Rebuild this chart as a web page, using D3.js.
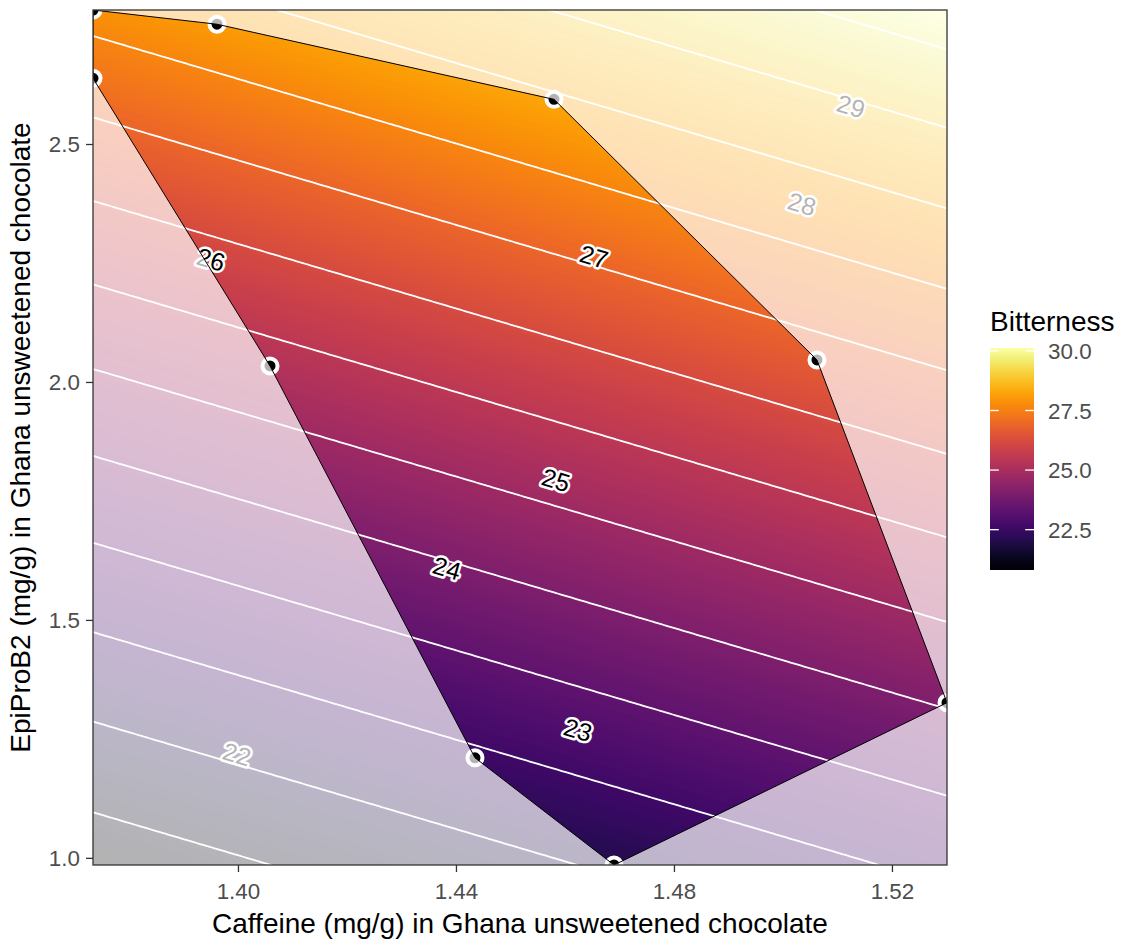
<!DOCTYPE html>
<html>
<head>
<meta charset="utf-8">
<script src="https://cdn.jsdelivr.net/npm/d3@7"></script>
<style>
  body { margin: 0; background: #ffffff; }
  svg { display: block; font-family: "Liberation Sans", Arial, sans-serif; }
</style>
</head>
<body>
<svg id="chart" width="1125" height="940"></svg>
<script>
// Design points: vertices of the experimental region, listed around its boundary
const caffeine = [1.3734, 1.39615, 1.45799, 1.50624, 1.5301, 1.46900, 1.44349, 1.40588, 1.3734];
const epiProB2 = [2.7816, 2.7517, 2.5938, 2.0463, 1.3261, 0.9850, 1.2103, 2.0336, 2.6380];

// Fitted second-order response surface, terms: [1, C, E, C^2, E^2, C*E]
const bitternessCoef = [4.8197, 6.789, 2.0016, 1.6933, 0.14717, 0.9984];

// Contour line levels
const contourLevels = [21.21, 21.92, 22.63, 23.35, 24.06, 24.78, 25.49, 26.20, 26.92, 27.63, 28.34, 29.06, 29.77];

// Contour labels: value and the caffeine position where each label sits
const labelValues = [22, 23, 24, 25, 26, 27, 28, 29];
const labelCaffeine = [1.39982, 1.46239, 1.43835, 1.45835, 1.39505, 1.46533, 1.50349, 1.51248];

const xTicks = [1.40, 1.44, 1.48, 1.52];
const yTicks = [1.0, 1.5, 2.0, 2.5];
const legendTicks = [22.5, 25.0, 27.5, 30.0];

const bitterness = (c, e) => {
  const b = bitternessCoef;
  return b[0] + b[1] * c + b[2] * e + b[3] * c * c + b[4] * e * e + b[5] * c * e;
};

const panel = { left: 93, right: 947, top: 10, bottom: 865 };
const pw = panel.right - panel.left, ph = panel.bottom - panel.top;

const svg = d3.select("#chart");

const x = d3.scaleLinear().domain(d3.extent(caffeine)).range([panel.left, panel.right]);
const y = d3.scaleLinear().domain(d3.extent(epiProB2)).range([panel.bottom, panel.top]);
const [xmin, xmax] = x.domain();
const [ymin, ymax] = y.domain();

// ---- raster of the surface, one sample per screen pixel ----
const raster = new Float64Array(pw * ph);
for (let j = 0; j < ph; j++) {
  const e = y.invert(panel.top + j + 0.5);
  for (let i = 0; i < pw; i++) {
    raster[j * pw + i] = bitterness(x.invert(panel.left + i + 0.5), e);
  }
}
const zExtent = d3.extent(raster);
const fill = d3.scaleSequential(d3.interpolateInferno).domain(zExtent);

const lutN = 1024;
const lut = d3.range(lutN).map(k => d3.rgb(d3.interpolateInferno(k / (lutN - 1))));
const canvas = document.createElement("canvas");
canvas.width = pw; canvas.height = ph;
const ctx = canvas.getContext("2d");
const img = ctx.createImageData(pw, ph);
for (let k = 0; k < raster.length; k++) {
  const t = (raster[k] - zExtent[0]) / (zExtent[1] - zExtent[0]);
  const col = lut[Math.max(0, Math.min(lutN - 1, Math.round(t * (lutN - 1))))];
  img.data[4 * k] = col.r; img.data[4 * k + 1] = col.g; img.data[4 * k + 2] = col.b; img.data[4 * k + 3] = 255;
}
ctx.putImageData(img, 0, 0);

const defs = svg.append("defs");
defs.append("clipPath").attr("id", "panel-clip")
  .append("rect").attr("x", panel.left).attr("y", panel.top).attr("width", pw).attr("height", ph);

const plot = svg.append("g").attr("clip-path", "url(#panel-clip)");

plot.append("image")
  .attr("x", panel.left).attr("y", panel.top)
  .attr("width", pw).attr("height", ph)
  .attr("preserveAspectRatio", "none")
  .attr("href", canvas.toDataURL());

// ---- contour lines ----
const gx = 240, gy = 240;
const grid = new Float64Array(gx * gy);
for (let j = 0; j < gy; j++) {
  const e = ymax - j * (ymax - ymin) / (gy - 1);
  for (let i = 0; i < gx; i++) {
    grid[j * gx + i] = bitterness(xmin + i * (xmax - xmin) / (gx - 1), e);
  }
}
const contours = d3.contours().size([gx, gy]).thresholds(contourLevels)(grid);
const gridToScreen = d3.geoTransform({
  point(px, py) {
    this.stream.point(
      x(xmin + (px - 0.5) * (xmax - xmin) / (gx - 1)),
      y(ymax - (py - 0.5) * (ymax - ymin) / (gy - 1))
    );
  }
});
const contourPath = d3.geoPath(gridToScreen);
plot.append("g")
  .selectAll("path")
  .data(contours)
  .join("path")
  .attr("d", contourPath)
  .attr("fill", "none")
  .attr("stroke", "#ffffff")
  .attr("stroke-width", 1.8);

// ---- contour labels, placed where the surface equals the label value ----
function solveEpi(c, v) {
  let lo = ymin - 1, hi = ymax + 1;
  for (let k = 0; k < 60; k++) {
    const mid = (lo + hi) / 2;
    if (bitterness(c, mid) < v) lo = mid; else hi = mid;
  }
  return (lo + hi) / 2;
}
const labels = labelValues.map((v, k) => {
  const c = labelCaffeine[k];
  const e = solveEpi(c, v);
  const px = x(c), py = y(e);
  const fx = bitterness(x.invert(px + 1), e) - bitterness(x.invert(px - 1), e);
  const fy = bitterness(c, y.invert(py + 1)) - bitterness(c, y.invert(py - 1));
  const angle = Math.atan2(fx, -fy) * 180 / Math.PI;
  return { v, px, py, angle };
});
plot.append("g")
  .selectAll("text")
  .data(labels)
  .join("text")
  .attr("transform", d => `translate(${d.px},${d.py}) rotate(${d.angle})`)
  .attr("text-anchor", "middle")
  .attr("dy", "0.36em")
  .attr("font-size", 25)
  .attr("fill", "#000000")
  .attr("stroke", "#ffffff")
  .attr("stroke-width", 5)
  .attr("stroke-linejoin", "round")
  .attr("paint-order", "stroke")
  .text(d => d.v);

// ---- design points ----
const pts = caffeine.map((c, k) => [x(c), y(epiProB2[k])]);
plot.append("g")
  .selectAll("circle")
  .data(pts)
  .join("circle")
  .attr("cx", d => d[0]).attr("cy", d => d[1])
  .attr("r", 7.5)
  .attr("fill", "#000000")
  .attr("stroke", "#ffffff")
  .attr("stroke-width", 4);

// ---- wash outside the experimental region ----
const regionPath = "M" + pts.map(p => p.join(",")).join("L") + "Z";
plot.append("path")
  .attr("d", `M${panel.left},${panel.top}H${panel.right}V${panel.bottom}H${panel.left}Z` + regionPath)
  .attr("fill", "#ffffff")
  .attr("fill-opacity", 0.7)
  .attr("fill-rule", "evenodd");
plot.append("path")
  .attr("d", regionPath)
  .attr("fill", "none")
  .attr("stroke", "#000000")
  .attr("stroke-width", 1);

// ---- panel border ----
svg.append("rect")
  .attr("x", panel.left).attr("y", panel.top).attr("width", pw).attr("height", ph)
  .attr("fill", "none").attr("stroke", "#333333").attr("stroke-width", 1.3);

// ---- axes ----
const xAxis = svg.append("g")
  .attr("transform", `translate(0,${panel.bottom})`)
  .call(d3.axisBottom(x).tickValues(xTicks).tickFormat(d3.format(".2f")).tickSize(7).tickPadding(11));
const yAxis = svg.append("g")
  .attr("transform", `translate(${panel.left},0)`)
  .call(d3.axisLeft(y).tickValues(yTicks).tickFormat(d3.format(".1f")).tickSize(7).tickPadding(6));
[xAxis, yAxis].forEach(a => {
  a.select(".domain").remove();
  a.selectAll(".tick line").attr("stroke", "#333333").attr("stroke-width", 1.3);
  a.selectAll(".tick text")
    .attr("fill", "#4d4d4d")
    .attr("font-size", 22.4)
    .attr("font-family", "'Liberation Sans', Arial, sans-serif");
});

svg.append("text")
  .attr("x", (panel.left + panel.right) / 2).attr("y", 933)
  .attr("text-anchor", "middle").attr("font-size", 28).attr("fill", "#000000")
  .text("Caffeine (mg/g) in Ghana unsweetened chocolate");
svg.append("text")
  .attr("transform", `translate(30,${(panel.top + panel.bottom) / 2}) rotate(-90)`)
  .attr("text-anchor", "middle").attr("font-size", 28).attr("fill", "#000000")
  .text("EpiProB2 (mg/g) in Ghana unsweetened chocolate");

// ---- colour bar legend ----
const bar = { x: 990, w: 44, top: 348, bottom: 570 };
const legendY = d3.scaleLinear().domain(zExtent).range([bar.bottom, bar.top]);
const grad = defs.append("linearGradient")
  .attr("id", "bar-grad").attr("x1", 0).attr("y1", 1).attr("x2", 0).attr("y2", 0);
d3.range(0, 1.0001, 0.05).forEach(t => {
  grad.append("stop").attr("offset", t).attr("stop-color", fill(zExtent[0] + t * (zExtent[1] - zExtent[0])));
});
const legend = svg.append("g");
legend.append("text")
  .attr("x", bar.x).attr("y", 331)
  .attr("font-size", 28).attr("fill", "#000000")
  .text("Bitterness");
legend.append("rect")
  .attr("x", bar.x).attr("y", bar.top).attr("width", bar.w).attr("height", bar.bottom - bar.top)
  .attr("fill", "url(#bar-grad)");
const tickLen = bar.w / 5;
legendTicks.forEach(v => {
  const ty = legendY(v);
  legend.append("line").attr("x1", bar.x).attr("x2", bar.x + tickLen).attr("y1", ty).attr("y2", ty)
    .attr("stroke", "#ffffff").attr("stroke-width", 1.3);
  legend.append("line").attr("x1", bar.x + bar.w - tickLen).attr("x2", bar.x + bar.w).attr("y1", ty).attr("y2", ty)
    .attr("stroke", "#ffffff").attr("stroke-width", 1.3);
  legend.append("text")
    .attr("x", bar.x + bar.w + 14).attr("y", ty).attr("dy", "0.36em")
    .attr("font-size", 22.4).attr("fill", "#4d4d4d")
    .text(d3.format(".1f")(v));
});
</script>
</body>
</html>
